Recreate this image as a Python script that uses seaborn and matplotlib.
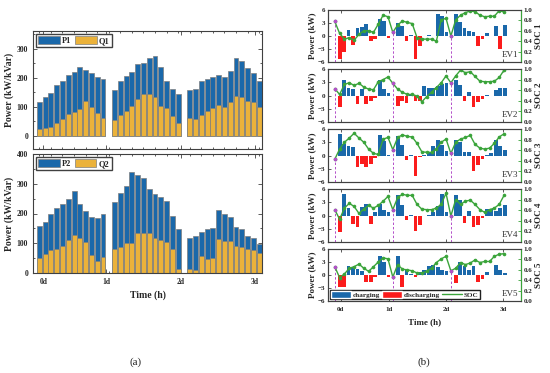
import numpy as np
import matplotlib
matplotlib.use('Agg')
import matplotlib.pyplot as plt
from matplotlib.ticker import MultipleLocator, FormatStrFormatter
from matplotlib.patches import Patch
from matplotlib.lines import Line2D
import seaborn as sns

# ---------------- datos panel (a) ----------------
day_len = [12, 12, 13]
day_labels = ['0d', '1d', '2d', '3d']

P1 = [118, 134, 148, 176, 191, 210, 220, 237, 228, 216, 202, 198,
      157, 188, 207, 222, 249, 252, 268, 276, 238, 190, 162, 145,
      158, 161, 188, 198, 203, 211, 204, 224, 269, 257, 235, 218, 189]
Q1 = [24, 26, 32, 44, 60, 75, 84, 94, 122, 101, 78, 63,
      55, 72, 86, 105, 128, 146, 144, 136, 104, 97, 69, 45,
      62, 58, 72, 86, 96, 107, 100, 116, 139, 135, 121, 116, 100]
P2 = [158, 173, 197, 218, 233, 250, 275, 233, 209, 187, 185, 198,
      238, 268, 293, 338, 330, 320, 283, 265, 257, 242, 190, 148,
      119, 124, 138, 148, 152, 211, 200, 188, 156, 148, 126, 117, 97]
Q2 = [50, 64, 77, 80, 90, 110, 128, 119, 103, 60, 40, 55,
      80, 88, 102, 100, 134, 136, 134, 116, 112, 103, 80, 14,
      15, 11, 58, 48, 52, 115, 107, 106, 91, 89, 80, 76, 68]

# ---------------- datos panel (b) ----------------
ev_power = {
    1: [-5.3, -3.6, 1.5, -2.0, 1.8, 2.0, 2.8, -1.2, -0.8, 3.9, 3.5, -0.5,
        2.9, 2.4, -1.1, 0.2, -5.2, -2.3, 0.1, 0.3, 0.1, 5.1, 4.7, 1.0,
        5.0, 3.3, 1.8, 1.2, 0.9, -2.2, -0.8, 0.6, 0.0, 2.3, -3.0, 2.6],
    2: [-2.5, 3.6, 1.6, 1.4, -1.9, 1.4, -1.9, -1.2, -0.5, 3.5, 1.4, 0.6,
        -2.4, -1.3, -1.7, 0.1, -1.2, -1.2, 2.2, 1.6, 1.8, 2.2, 2.7, 2.8,
        3.5, 2.4, -1.2, 0.8, -2.7, -1.5, -0.7, 0.2, 0.0, 1.2, 1.6, 1.8],
    3: [4.8, 2.7, 2.1, 1.9, -2.5, -2.0, -2.5, -1.9, -0.6, 4.6, 3.3, 0.1,
        4.5, 2.3, -1.1, 0.15, -4.6, -0.3, 0.2, 0.9, 2.1, 3.4, 2.3, 1.0,
        3.6, 3.0, 0.7, 0.9, -3.5, -2.2, -0.8, 0.1, 0.5, 3.4, 2.2, 1.3],
    4: [-3.7, 4.8, 1.8, -1.9, -2.5, 2.0, 2.6, -1.9, 0.7, 2.6, 1.3, 0.9,
        4.6, 2.4, -1.0, 0.15, -3.4, -2.1, -0.2, 0.1, 0.7, 2.2, 4.8, 0.9,
        4.6, 3.4, -1.7, 1.0, -2.5, -2.1, -0.6, 1.5, 1.5, 1.0, 1.8, 2.4],
    5: [-2.8, -2.8, 2.0, 1.8, 1.5, 0.9, -1.7, -1.5, -0.5, 4.3, 2.9, -0.5,
        4.5, -2.8, 1.2, 0.3, -0.5, 0.6, 1.2, 2.0, 2.2, 1.8, 1.2, 0.9,
        -1.9, 2.9, 2.0, 1.2, 2.0, -1.7, -0.9, 0.6, 0.1, 2.4, 1.2, 0.5],
}
ev_soc = {
    1: [0.78, 0.55, 0.44, 0.47, 0.42, 0.53, 0.60, 0.60, 0.57, 0.73, 0.90, 0.87,
        0.57, 0.71, 0.79, 0.76, 0.74, 0.47, 0.44, 0.44, 0.44, 0.40, 0.81, 0.84,
        0.50, 0.81, 0.90, 0.95, 0.98, 0.97, 0.90, 0.87, 0.88, 0.88, 0.99, 0.96],
    2: [0.63, 0.52, 0.71, 0.74, 0.69, 0.73, 0.66, 0.62, 0.61, 0.76, 0.80, 0.85,
        0.73, 0.62, 0.56, 0.52, 0.52, 0.49, 0.38, 0.48, 0.56, 0.65, 0.74, 0.87,
        0.74, 0.87, 0.98, 0.93, 0.95, 0.86, 0.77, 0.76, 0.76, 0.77, 0.84, 0.98],
    3: [0.43, 0.62, 0.75, 0.83, 0.92, 0.83, 0.75, 0.62, 0.54, 0.52, 0.81, 0.84,
        0.61, 0.84, 0.89, 0.86, 0.85, 0.73, 0.57, 0.56, 0.56, 0.62, 0.75, 0.81,
        0.54, 0.75, 0.81, 0.84, 0.88, 0.71, 0.64, 0.62, 0.64, 0.73, 0.85, 0.91],
    4: [0.61, 0.43, 0.64, 0.73, 0.67, 0.54, 0.62, 0.69, 0.64, 0.69, 0.77, 0.86,
        0.61, 0.84, 0.90, 0.88, 0.88, 0.71, 0.62, 0.61, 0.61, 0.64, 0.71, 0.92,
        0.49, 0.80, 0.71, 0.77, 0.79, 0.71, 0.61, 0.56, 0.61, 0.64, 0.71, 0.88],
    5: [0.66, 0.45, 0.52, 0.63, 0.66, 0.71, 0.63, 0.57, 0.66, 0.75, 0.83, 0.81,
        0.46, 0.70, 0.61, 0.60, 0.58, 0.54, 0.54, 0.57, 0.63, 0.74, 0.81, 0.86,
        0.58, 0.63, 0.74, 0.70, 0.73, 0.79, 0.74, 0.76, 0.76, 0.86, 0.90, 0.91],
}
arrival = [0, 12, 24]

# colores
azul = '#1a68aa'
naranja = '#ebb23a'
rojo = '#fb1c1c'
verde = '#3aa43a'
morado = '#b34fc9'
borde = '#7f7f7f'

sns.set_theme(style='ticks')
plt.rcParams['font.family'] = ['Liberation Serif', 'DejaVu Serif']
plt.rcParams['font.weight'] = 'bold'
plt.rcParams['axes.labelweight'] = 'bold'
plt.rcParams['axes.edgecolor'] = '#404040'
plt.rcParams['axes.linewidth'] = 0.8

fig = plt.figure(figsize=(5.5, 3.73), dpi=100)

def rect(x0, x1, y0, y1):
    return [x0 / 550, 1 - y1 / 373, (x1 - x0) / 550, (y1 - y0) / 373]

# ---------------- panel (a) ----------------
slot = [13 * d + i for d, n in enumerate(day_len) for i in range(n)]
ticks_a = [0.7, 11.6, 24.5, 37.3]

def panel_a(ax, P, Q, nombres, ylim, yticks, etiquetas):
    sns.barplot(x=slot, y=P, native_scale=True, color=azul, saturation=1,
                width=0.85, edgecolor=borde, linewidth=0.5, errorbar=None, ax=ax)
    sns.barplot(x=slot, y=Q, native_scale=True, color=naranja, saturation=1,
                width=0.85, edgecolor=borde, linewidth=0.5, errorbar=None, ax=ax)
    ax.set_xlim(-1.1, 38.5)
    ax.set_ylim(*ylim)
    ax.set_yticks(yticks)
    ax.set_xticks(ticks_a)
    ax.set_xticklabels(day_labels if etiquetas else [])
    ax.xaxis.set_minor_locator(MultipleLocator(2))
    ax.yaxis.set_minor_locator(MultipleLocator(50))
    ax.tick_params(which='both', direction='in', top=True, right=True,
                   labelsize=5.5, width=0.6, color='#404040')
    ax.tick_params(which='major', length=3)
    ax.tick_params(which='minor', length=1.5)
    ax.set_ylabel('Power (kW/kVar)', fontsize=7, labelpad=2)
    ax.set_xlabel('')
    h = [Patch(fc=azul, ec=borde, lw=0.5), Patch(fc=naranja, ec=borde, lw=0.5)]
    ax.legend(h, nombres, loc='upper left', ncol=2, fontsize=6, frameon=True,
              fancybox=False, edgecolor='#404040', framealpha=1,
              handlelength=2.6, handleheight=1.1, handletextpad=0.3,
              columnspacing=0.4, borderpad=0.25, borderaxespad=0.35)

ax_a1 = fig.add_axes(rect(33, 262, 31, 149))
panel_a(ax_a1, P1, Q1, ['P1', 'Q1'], (-45, 362), [0, 100, 200, 300], False)
ax_a2 = fig.add_axes(rect(33, 262, 154, 273))
panel_a(ax_a2, P2, Q2, ['P2', 'Q2'], (0, 400), [0, 100, 200, 300, 400], True)
ax_a2.set_xlabel('Time (h)', fontsize=7, labelpad=3)

# ---------------- panel (b) ----------------
t_soc = np.arange(36)
t_bar = np.concatenate([12 * d + 1 + 0.92 * np.arange(12) for d in range(3)])
ticks_b = [1.2, 11.2, 23.0, 34.8]
filas = [(10, 62), (69, 122), (129, 182), (189, 242), (249, 301)]

for k, (y0, y1) in zip(range(1, 6), filas):
    ax = fig.add_axes(rect(328, 521, y0, y1))
    ax2 = ax.twinx()
    p = np.array(ev_power[k])
    soc = np.array(ev_soc[k])
    sns.barplot(x=t_bar, y=np.clip(p, 0, None), native_scale=True, color=azul,
                saturation=1, width=0.85, linewidth=0, errorbar=None, ax=ax)
    sns.barplot(x=t_bar, y=np.clip(p, None, 0), native_scale=True, color=rojo,
                saturation=1, width=0.85, linewidth=0, errorbar=None, ax=ax)
    ax2.vlines(t_soc[arrival], 0, soc[arrival], colors=morado,
               linestyles=(0, (2.5, 2)), linewidth=0.7)
    sns.lineplot(x=t_soc, y=soc, ax=ax2, color=verde, marker='o', markersize=2.6,
                 markeredgewidth=0, linewidth=1.0)
    sns.scatterplot(x=t_soc[arrival], y=soc[arrival], ax=ax2, color=morado,
                    s=7, linewidth=0, zorder=5)
    ax.set_xlim(-1.4, 38.5)
    ax.set_ylim(-6, 6)
    ax.set_yticks([-6, -3, 0, 3, 6])
    ax2.set_ylim(0, 1)
    ax2.set_yticks(np.arange(0, 1.01, 0.2))
    ax2.yaxis.set_major_formatter(FormatStrFormatter('%.1f'))
    ax.set_xticks(ticks_b)
    ax.set_xticklabels(day_labels if k == 5 else [])
    ax.tick_params(direction='in', top=True, labelsize=5, length=2.5, width=0.6,
                   pad=2, color='#404040')
    ax2.tick_params(direction='in', labelsize=5, length=2.5, width=0.6, pad=2,
                    color=verde)
    ax2.spines['right'].set_color(verde)
    ax.set_ylabel('Power (kW)', fontsize=6.5, labelpad=1)
    ax2.set_ylabel(f'SOC {k}', fontsize=6.5, labelpad=2)
    ax.set_xlabel('')
    ax2.set_xlabel('')
    ax2.text(0.985, 0.05, f'EV{k}', transform=ax.transAxes, ha='right', va='bottom',
             fontsize=6.5, fontweight='normal', color='#333333')
    if k == 5:
        ax.tick_params(axis='x', pad=4)
        ax.set_xlabel('Time (h)', fontsize=6.5, labelpad=5)
        h = [Patch(fc=azul), Patch(fc=rojo), Line2D([], [], color=verde, lw=1)]
        ax2.legend(h, ['charging', 'discharging', 'SOC'], loc='lower left', ncol=3,
                   fontsize=5.2, frameon=True, fancybox=False, edgecolor='#202020',
                   framealpha=1, handlelength=2.8, handleheight=1.0,
                   handletextpad=0.2, columnspacing=0.3, borderpad=0.15,
                   borderaxespad=0.25)

fig.text(136 / 550, 1 - 362 / 373, '(a)', ha='center', va='center', fontsize=8,
         fontweight='normal')
fig.text(424 / 550, 1 - 362 / 373, '(b)', ha='center', va='center', fontsize=8,
         fontweight='normal')

fig.savefig('out.png', dpi=100)
